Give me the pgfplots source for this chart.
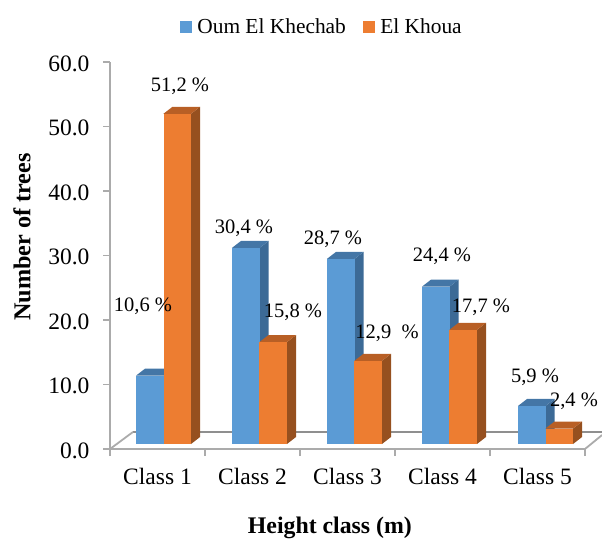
\documentclass[border=0pt]{standalone}
\usepackage{fontspec}
\setmainfont{Liberation Serif}
\usepackage{pgfplots}
\pgfplotsset{compat=1.18}

\definecolor{blueF}{HTML}{5B9BD5}
\definecolor{blueT}{HTML}{4476A6}
\definecolor{blueS}{HTML}{3C6A96}
\definecolor{oranF}{HTML}{ED7D31}
\definecolor{oranT}{HTML}{B85F25}
\definecolor{oranS}{HTML}{96501F}
\definecolor{floorA}{HTML}{8F8F8F}
\definecolor{floorB}{HTML}{ABABAB}

% left edge, value, colour prefix: side + top + front of one 3D bar
\newcommand{\threedbar}[3]{
  \addplot[fill=#3S,draw=none,forget plot,yshift=5pt] coordinates
    {({#1+0.29},0) ({#1+0.385},1.085) ({#1+0.385},{#2+1.085}) ({#1+0.29},#2)} -- cycle;
  \addplot[fill=#3T,draw=none,forget plot,yshift=5pt] coordinates
    {(#1,#2) ({#1+0.29},#2) ({#1+0.385},{#2+1.085}) ({#1+0.095},{#2+1.085})} -- cycle;
  \addplot[ybar,bar width=27.5pt,bar shift=0pt,fill=#3F,draw=none,forget plot,yshift=5pt]
    coordinates {({#1+0.145},#2)};
}
\newcommand{\lab}[3]{\node[font=\fontsize{20.5}{24}\selectfont,inner sep=0pt] at ({#1*1pt},{(536-#2)*1pt}) {#3};}

\begin{document}
\begin{tikzpicture}
\useasboundingbox (0,0) rectangle (602pt,538pt);
\begin{axis}[
  at={(110pt,89pt)},anchor=south west,
  scale only axis,width=475pt,height=387pt,
  xmin=0,xmax=5,ymin=0,ymax=60,
  axis x line*=bottom,axis y line*=left,
  clip=false,
  axis line style={floorB,line width=1.8pt},
  tick style={floorB,line width=1.2pt},
  major tick length=7pt,
  tick align=outside,
  xtick={0,1,2,3,4,5},
  xticklabels={Class 1,Class 2,Class 3,Class 4,Class 5},
  x tick label as interval,
  ytick={0,10,20,30,40,50,60},
  xtick pos=bottom,ytick pos=left,
  /pgf/number format/assume math mode=true,
  /pgf/number format/fixed,/pgf/number format/fixed zerofill,/pgf/number format/precision=1,
  xticklabel style={font=\fontsize{23.5}{26}\selectfont,yshift=-9pt},
  yticklabel style={font=\fontsize{23.5}{26}\selectfont,xshift=-10pt,yshift=-1.5pt},
  xlabel={\textbf{Height class (m)}},
  ylabel={\textbf{Number of trees}},
  xlabel style={font=\fontsize{23.8}{26}\selectfont,at={(axis description cs:0.463,-0.204)},anchor=center},
  ylabel style={font=\fontsize{24.2}{26}\selectfont,at={(axis description cs:-0.185,0.548)},anchor=center},
  legend columns=2,
  legend style={draw=none,fill=none,at={(axis description cs:0.446,1.09)},anchor=center,
    font=\fontsize{21.4}{24}\selectfont,/tikz/every even column/.append style={column sep=15pt},
    inner sep=0pt},
  legend image code/.code={\fill[#1] (0pt,-5.5pt) rectangle (11pt,5.5pt); \path (15pt,0pt);},
]
\addlegendimage{blueF}
\addlegendimage{oranF}
\legend{Oum El Khechab,El Khoua}

% floor
\draw[floorA,line width=1.8pt] (axis cs:0.242,2.64) -- (axis cs:5.18,2.64);
\draw[floorB,line width=1.8pt] (axis cs:0,0) -- (axis cs:0.242,2.64);
\draw[floorB,line width=1.8pt] (axis cs:5,0) -- (axis cs:5.18,2.17);

\threedbar{0.274}{10.6}{blue}
\threedbar{0.563}{51.2}{oran}
\threedbar{1.284}{30.4}{blue}
\threedbar{1.573}{15.8}{oran}
\threedbar{2.284}{28.7}{blue}
\threedbar{2.573}{12.9}{oran}
\threedbar{3.284}{24.4}{blue}
\threedbar{3.573}{17.7}{oran}
\threedbar{4.295}{5.9}{blue}
\threedbar{4.584}{2.4}{oran}
\end{axis}
\lab{180}{84}{51,2 \%}
\lab{143}{304}{10,6 \%}
\lab{244}{226}{30,4 \%}
\lab{293}{310}{15,8 \%}
\lab{333}{237}{28,7 \%}
\lab{387}{331}{12,9\ \ \%}
\lab{442}{254}{24,4 \%}
\lab{481}{305}{17,7 \%}
\lab{535}{375}{5,9 \%}
\lab{574}{399}{2,4 \%}
\end{tikzpicture}
\end{document}
